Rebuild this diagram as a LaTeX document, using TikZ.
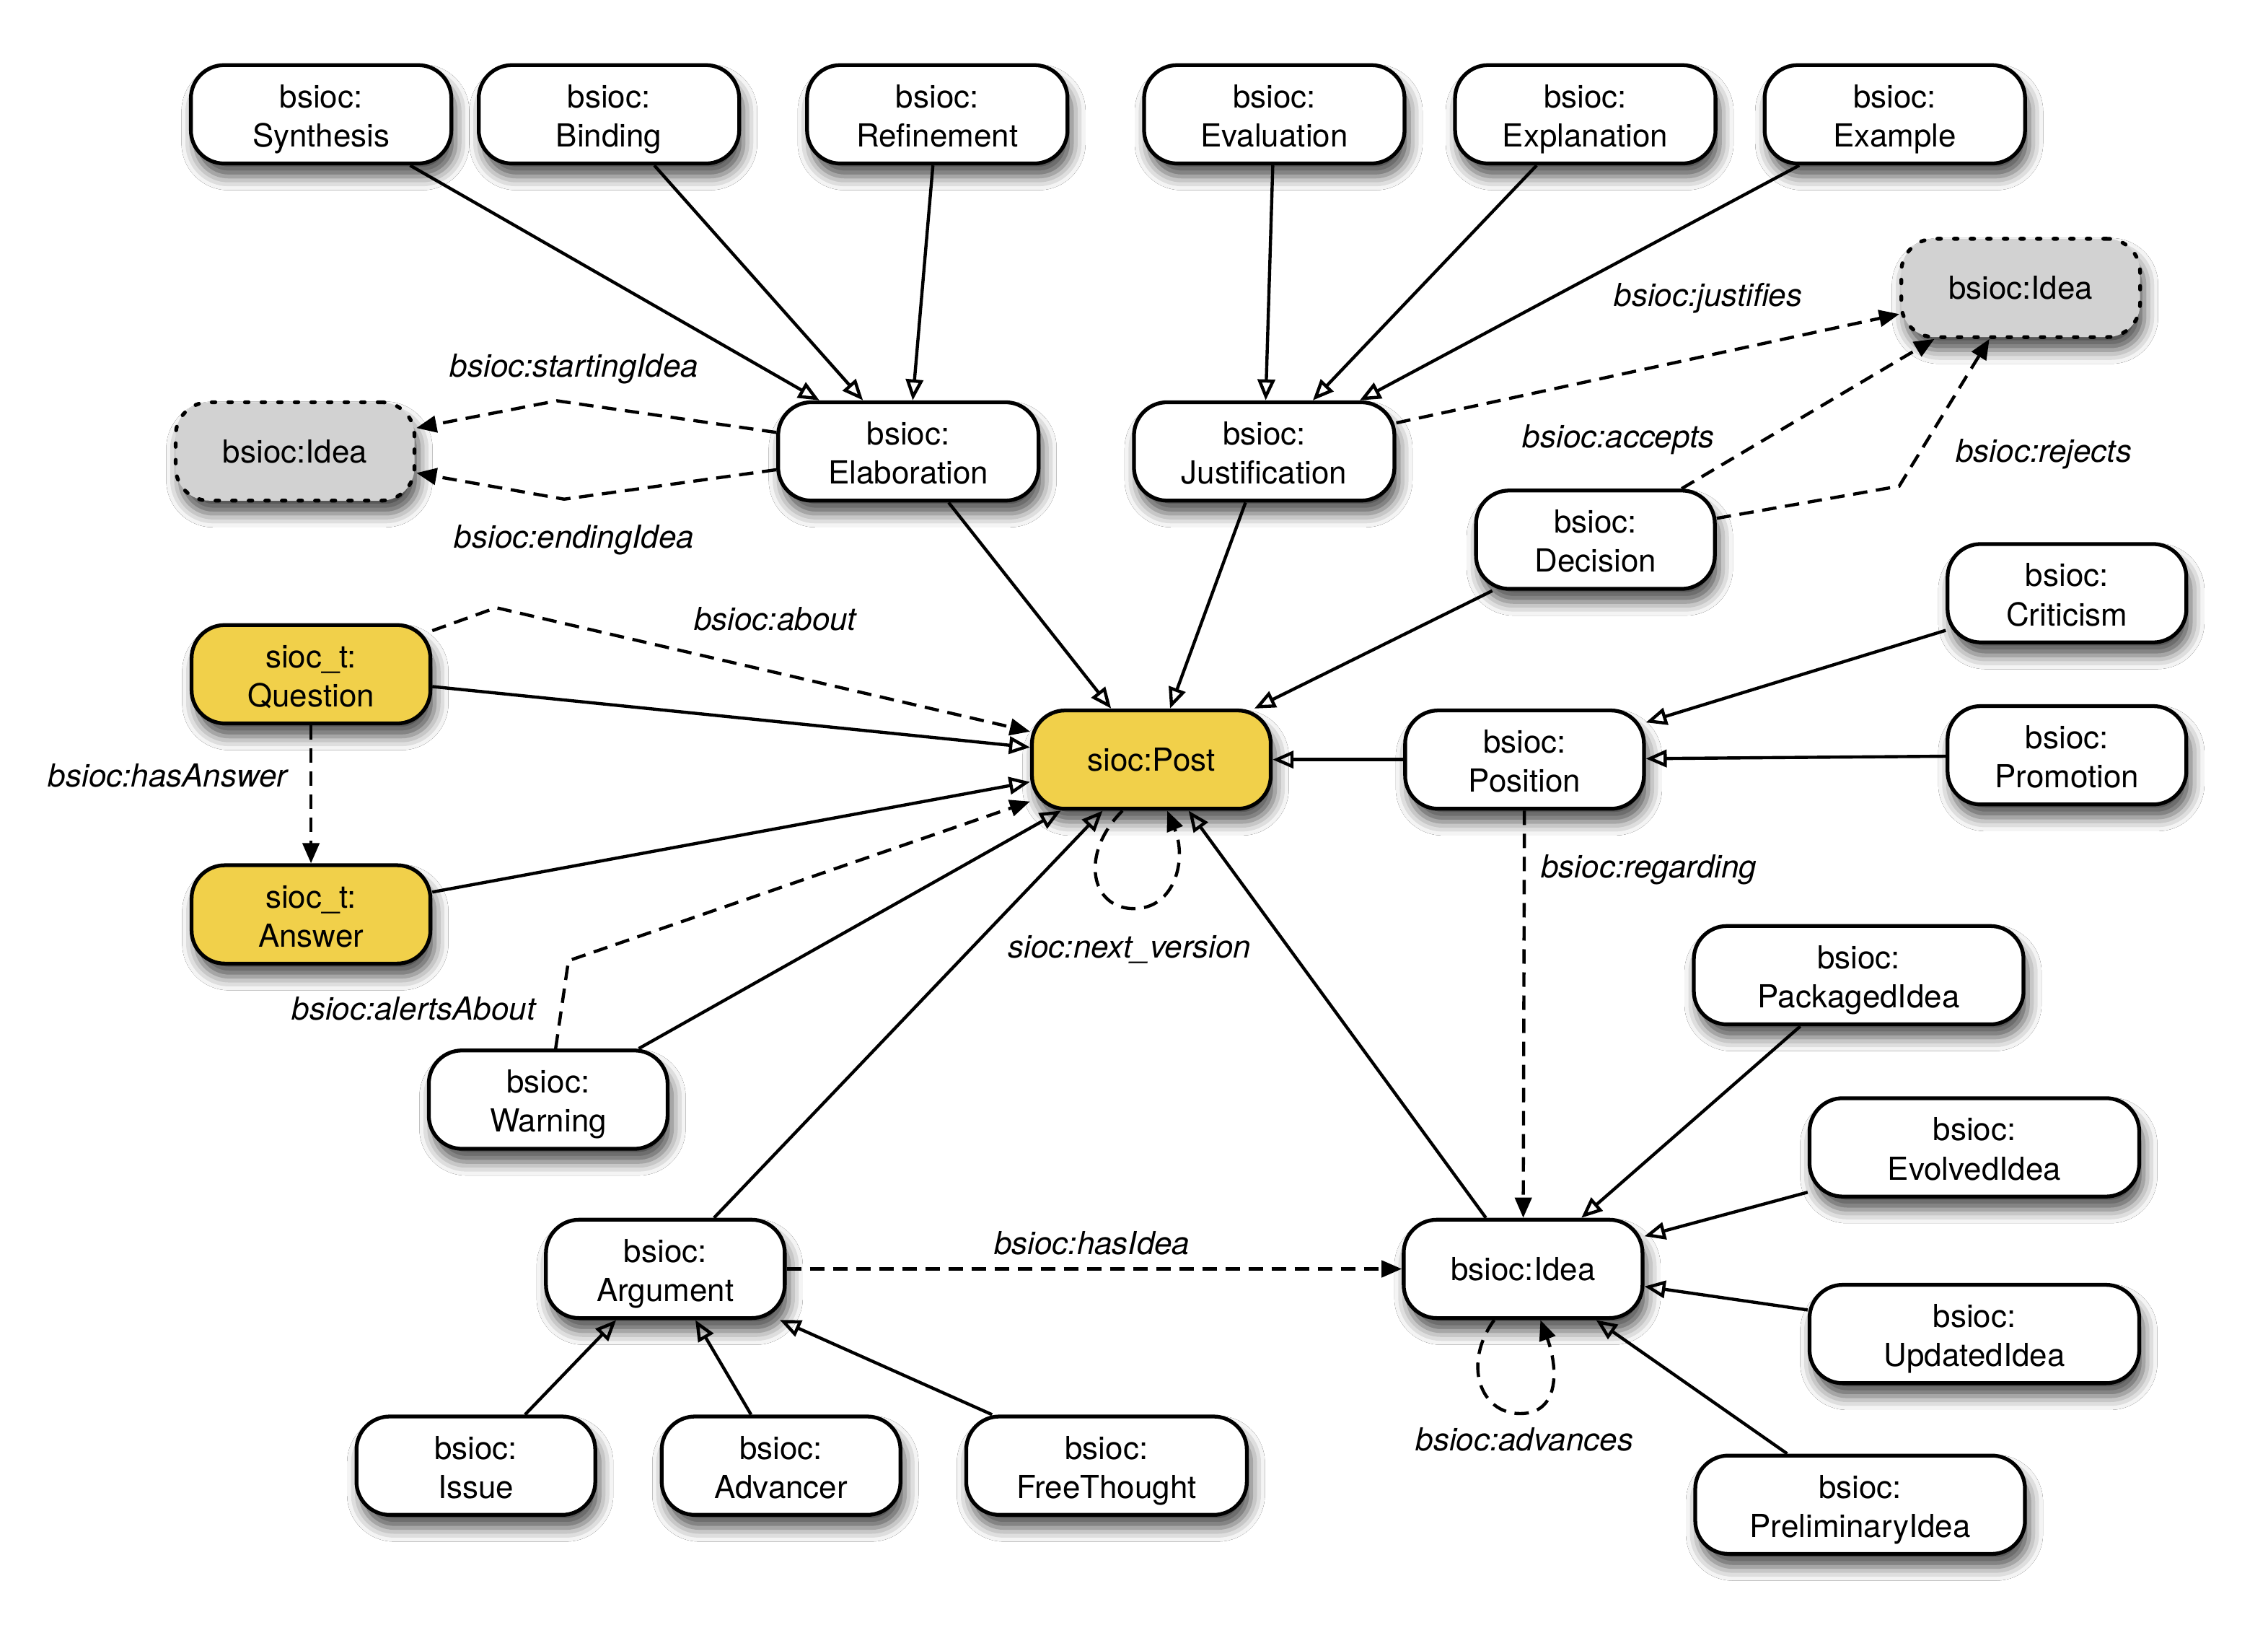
\documentclass[tikz,border=0pt]{standalone}
\usepackage{fontspec}
\setmainfont{TeX Gyre Heros}
\usetikzlibrary{arrows.meta,shadows.blur}
\definecolor{qyellow}{HTML}{F1D04A}
\definecolor{ideagrey}{HTML}{D2D2D2}
\newcommand{\twol}[2]{\rule{0pt}{5.2mm}#1\\\strut #2}
\begin{document}
\begin{tikzpicture}[x=0.2005mm,y=-0.2005mm,
  font=\fontsize{12.5}{15.4}\selectfont,
  box/.style={draw, line width=1.5pt, fill=white, rounded corners=4.6mm,
    minimum height=13.63mm, minimum width=36.1mm, align=center, inner sep=0pt,
    blur shadow={shadow xshift=0.6mm, shadow yshift=-1.8mm, shadow blur radius=1.9mm, shadow opacity=70}},
  wA/.style={minimum width=33.1mm},
  wB/.style={minimum width=45.7mm},
  wC/.style={minimum width=38.9mm},
  yel/.style={fill=qyellow},
  ghost/.style={fill=ideagrey, dash pattern=on 0.5mm off 1.8mm, line cap=round},
  sub/.style={line width=1.25pt, -{Triangle[open, length=2.9mm, width=2.4mm]}},
  prop/.style={line width=1.25pt, dash pattern=on 2mm off 1.2mm, -{Triangle[length=2.8mm, width=2.3mm]}},
  lbl/.style={font=\fontsize{12.5}{15.4}\selectfont\itshape, inner sep=1pt}]
\path[use as bounding box, fill=white] (0,0) rectangle (1568,1141);

% nodes
\node[box] (syn) at (222,79) {\twol{bsioc:}{Synthesis}};
\node[box] (bind) at (421,79) {\twol{bsioc:}{Binding}};
\node[box] (refi) at (648,79) {\twol{bsioc:}{Refinement}};
\node[box] (eval) at (881,79) {\twol{bsioc:}{Evaluation}};
\node[box] (expl) at (1096,79) {\twol{bsioc:}{Explanation}};
\node[box] (exam) at (1310,79) {\twol{bsioc:}{Example}};
\node[box,wA,ghost] (ideaR) at (1397,199) {bsioc:Idea};
\node[box,wA,ghost] (ideaL) at (204,312) {bsioc:Idea};
\node[box] (elab) at (628,312) {\twol{bsioc:}{Elaboration}};
\node[box] (just) at (874,312) {\twol{bsioc:}{Justification}};
\node[box,wA] (deci) at (1103,373) {\twol{bsioc:}{Decision}};
\node[box,wA] (crit) at (1429,410) {\twol{bsioc:}{Criticism}};
\node[box,wA,yel] (ques) at (215,466) {\twol{sioc\_t:}{Question}};
\node[box,wA,yel] (post) at (796,525) {sioc:Post};
\node[box,wA] (posi) at (1054,525) {\twol{bsioc:}{Position}};
\node[box,wA] (promo) at (1429,522) {\twol{bsioc:}{Promotion}};
\node[box,wA,yel] (answ) at (215,632) {\twol{sioc\_t:}{Answer}};
\node[box,wB] (pack) at (1285,674) {\twol{bsioc:}{PackagedIdea}};
\node[box,wA] (warn) at (379,760) {\twol{bsioc:}{Warning}};
\node[box,wB] (evol) at (1365,793) {\twol{bsioc:}{EvolvedIdea}};
\node[box,wA] (argu) at (460,877) {\twol{bsioc:}{Argument}};
\node[box,wA] (idea) at (1053,877) {bsioc:Idea};
\node[box,wB] (upd) at (1365,922) {\twol{bsioc:}{UpdatedIdea}};
\node[box,wA] (issue) at (329,1013) {\twol{bsioc:}{Issue}};
\node[box,wA] (adv) at (540,1013) {\twol{bsioc:}{Advancer}};
\node[box,wC] (free) at (765,1013) {\twol{bsioc:}{FreeThought}};
\node[box,wB] (prel) at (1286,1040) {\twol{bsioc:}{PreliminaryIdea}};

% bend points
\coordinate (b1) at (385,277);
\coordinate (b2) at (390,345);
\coordinate (b3) at (1313,336);
\coordinate (b4) at (343,420);
\coordinate (b5) at (393,664);
\coordinate (pl) at (784,628);
\coordinate (il) at (1051,977);

% subclass edges
\draw[sub] (syn) -- (elab);
\draw[sub] (bind) -- (elab);
\draw[sub] (refi) -- (elab);
\draw[sub] (eval) -- (just);
\draw[sub] (expl) -- (just);
\draw[sub] (exam) -- (just);
\draw[sub] (elab) -- (post);
\draw[sub] (just) -- (post);
\draw[sub] (deci) -- (post);
\draw[sub] (ques) -- (post);
\draw[sub] (answ) -- (post);
\draw[sub] (warn) -- (post);
\draw[sub] (argu) -- (post);
\draw[sub] (idea) -- (post);
\draw[sub] (posi) -- (post);
\draw[sub] (crit) -- (posi);
\draw[sub] (promo) -- (posi);
\draw[sub] (pack) -- (idea);
\draw[sub] (evol) -- (idea);
\draw[sub] (upd) -- (idea);
\draw[sub] (prel) -- (idea);
\draw[sub] (issue) -- (argu);
\draw[sub] (adv) -- (argu);
\draw[sub] (free) -- (argu);

% property edges
\draw[prop] (elab) -- (b1) -- (ideaL);
\draw[prop] (elab) -- (b2) -- (ideaL);
\draw[prop] (just) -- (ideaR);
\draw[prop] (deci) -- (ideaR);
\draw[prop] (deci) -- (b3) -- (ideaR);
\draw[prop] (ques) -- (b4) -- (post);
\draw[prop] (ques) -- (answ);
\draw[prop] (warn) -- (b5) -- (post);
\draw[prop] (posi) -- (idea);
\draw[prop] (argu) -- (idea);
\draw[prop] ([xshift=-4mm]post.south) .. controls +(-30,30) and +(-30,0) .. (pl)
  .. controls +(28,0) and +(14,34) .. ([xshift=2.2mm]post.south);
\draw[prop] ([xshift=-4mm]idea.south) .. controls +(-22,30) and +(-28,0) .. (il)
  .. controls +(28,0) and +(12,32) .. ([xshift=2.4mm]idea.south);

% labels
\node[lbl] (l1) at (397,255) {bsioc:startingIdea};
\node[lbl] (l2) at (397,373) {bsioc:endingIdea};
\node[lbl] (l3) at (1181,206) {bsioc:justifies};
\node[lbl] (l4) at (1119,304) {bsioc:accepts};
\node[lbl] (l5) at (1413,314) {bsioc:rejects};
\node[lbl] (l6) at (536,428) {bsioc:about};
\node[lbl] (l7) at (116,536) {bsioc:hasAnswer};
\node[lbl] (l8) at (286,697) {bsioc:alertsAbout};
\node[lbl] (l9) at (781,656) {sioc:next\_version};
\node[lbl] (l10) at (1140,601) {bsioc:regarding};
\node[lbl] (l11) at (755,859) {bsioc:hasIdea};
\node[lbl] (l12) at (1054,995) {bsioc:advances};
\end{tikzpicture}
\end{document}
